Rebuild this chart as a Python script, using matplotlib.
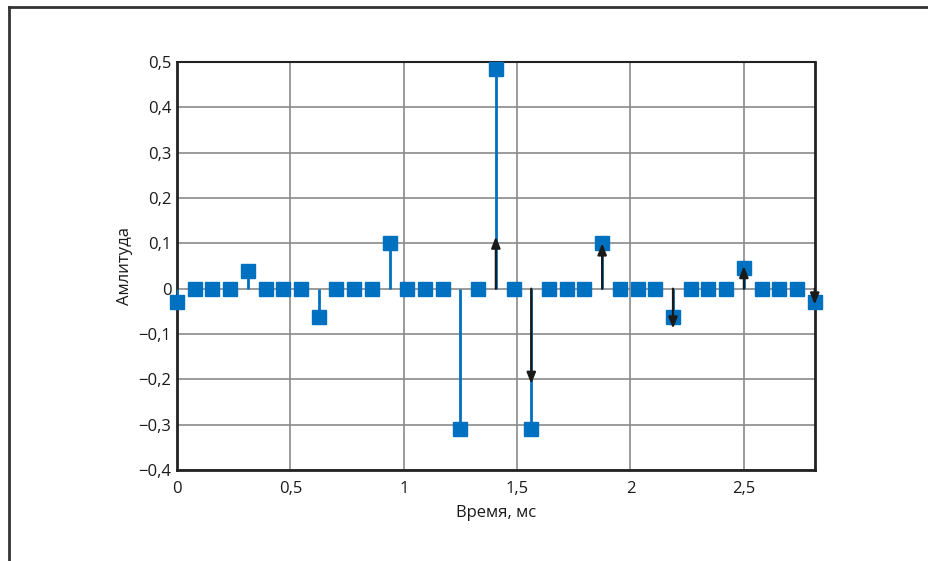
import numpy as np
import matplotlib
matplotlib.use("Agg")
import matplotlib.pyplot as plt
from matplotlib.lines import Line2D

plt.rcParams['font.family'] = ['Open Sans', 'DejaVu Sans']

dt = 0.078125
n_samples = 37
amplitudes = [-0.03, 0, 0, 0, 0.04, 0, 0, 0, -0.063, 0, 0, 0, 0.1, 0, 0, 0,
              -0.31, 0, 0.485, 0, -0.31, 0, 0, 0, 0.1, 0, 0, 0, -0.063, 0, 0, 0,
              0.045, 0, 0, 0, -0.03]
arrow_idx = [18, 20, 24, 28, 32, 36]
arrow_vals = [0.115, -0.21, 0.1, -0.088, 0.05, -0.035]
xticks = [0, 0.5, 1, 1.5, 2, 2.5]
xticklabels = ['0', '0,5', '1', '1,5', '2', '2,5']
yticks = [-0.4, -0.3, -0.2, -0.1, 0, 0.1, 0.2, 0.3, 0.4, 0.5]
yticklabels = ['\u22120,4', '\u22120,3', '\u22120,2', '\u22120,1', '0', '0,1', '0,2', '0,3', '0,4', '0,5']

t = np.arange(n_samples) * dt
blue = '#0070C0'

fig = plt.figure(figsize=(9.29, 5.61), dpi=100)
ax = fig.add_axes([0.1905, 0.1622, 0.877 - 0.1905, 0.8895 - 0.1622])

ax.set_xlim(0, 36 * dt)
ax.set_ylim(-0.4, 0.5)
ax.set_xticks(xticks)
ax.set_xticklabels(xticklabels)
ax.set_yticks(yticks)
ax.set_yticklabels(yticklabels)
ax.tick_params(length=0, labelsize=12, pad=4, colors='#1a1a1a')
ax.tick_params(axis='x', pad=8)
ax.grid(True, color='#8a8a8a', linewidth=1.2)
ax.set_axisbelow(True)
for s in ['left', 'bottom', 'right']:
    ax.spines[s].set_linewidth(2)
    ax.spines[s].set_color('#222222')
ax.spines['top'].set_linewidth(1.5)
ax.spines['top'].set_color('#222222')

ax.vlines(t, 0, amplitudes, color=blue, linewidth=2, zorder=3)
ax.plot(t, amplitudes, 's', color=blue, markersize=9.5, zorder=5, clip_on=False)
for i, v in zip(arrow_idx, arrow_vals):
    ax.annotate('', xy=(t[i], v), xytext=(t[i], 0),
                arrowprops=dict(arrowstyle='-|>,head_length=0.55,head_width=0.22',
                                color='#1a1a1a', lw=1.6,
                                mutation_scale=12, shrinkA=0, shrinkB=0),
                zorder=6, annotation_clip=False)

ax.set_xlabel('Время, мс', fontsize=12, labelpad=6, color='#1a1a1a')
ax.set_ylabel('Амлитуда', fontsize=12, labelpad=4, color='#1a1a1a')

fig.add_artist(Line2D([8.5 / 929, 8.5 / 929], [0, 1 - 7 / 561], transform=fig.transFigure,
                      color='#333333', linewidth=2))
fig.add_artist(Line2D([8.5 / 929, 1], [1 - 7 / 561, 1 - 7 / 561], transform=fig.transFigure,
                      color='#333333', linewidth=2))

fig.savefig('out.png', dpi=100)
